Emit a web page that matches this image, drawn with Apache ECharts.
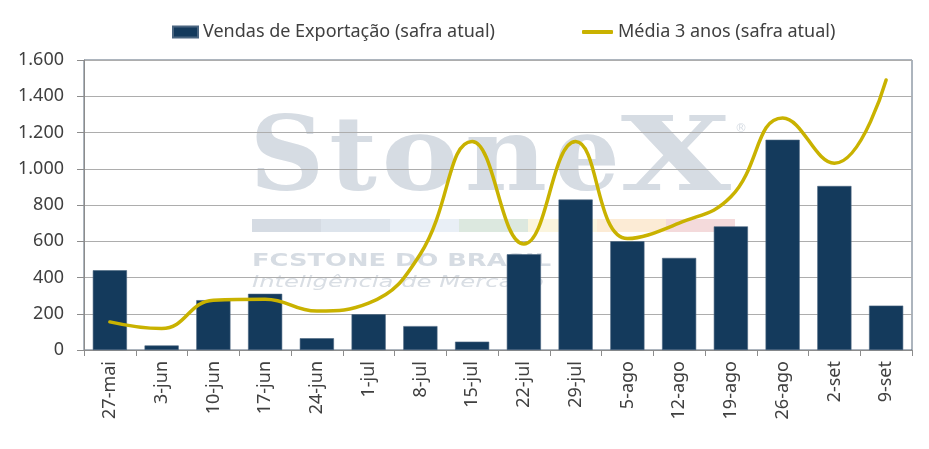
<!DOCTYPE html>
<html>
<head>
<meta charset="utf-8">
<script src="https://cdn.jsdelivr.net/npm/echarts@6/dist/echarts.min.js"></script>
<style>
html,body{margin:0;padding:0;background:#fff;}
#c{width:929px;height:449px;}
</style>
</head>
<body>
<div id="c"></div>
<script>
const categories = ['27-mai','3-jun','10-jun','17-jun','24-jun','1-jul','8-jul','15-jul','22-jul','29-jul','5-ago','12-ago','19-ago','26-ago','2-set','9-set'];
const exportSales = [440, 25, 275, 310, 65, 197, 132, 46, 528, 830, 600, 508, 682, 1160, 905, 245];
const avg3y = [155, 118, 275, 280, 215, 258, 530, 1150, 585, 1150, 615, 700, 845, 1280, 1030, 1490];
const seriesNames = ['Vendas de Exportação (safra atual)', 'Média 3 anos (safra atual)'];
const yTicks = { min: 0, max: 1600, interval: 200 };

// decorative watermark (logo)
const wmLetters = [['S',287,1],['t',353,1],['o',420,1.12],['n',506,1.1],['e',587,1],['X',676,1.38]];
const wmStrips = ['#D5DBE3','#DDE4EC','#E9EFF6','#DCE8DF','#FBF5DE','#FCEBD5','#F4DADB'];
const wmColor = '#D6DCE3';

const graphics = [];
wmLetters.forEach(function(l){
  graphics.push({type:'text', z:-10, silent:true, x:l[1], y:163, scaleX:l[2],
    style:{text:l[0], fill:wmColor, fontFamily:'DejaVu Serif', fontWeight:'bold', fontSize:103, align:'center', verticalAlign:'middle'}});
});
graphics.push({type:'text', z:-10, silent:true, x:741, y:129,
  style:{text:'®', fill:wmColor, fontFamily:'DejaVu Sans', fontSize:12, align:'center', verticalAlign:'middle'}});
wmStrips.forEach(function(c,i){
  graphics.push({type:'rect', z:-10, silent:true, shape:{x:252+i*69, y:219, width:69, height:13}, style:{fill:c}});
});
graphics.push({type:'text', z:-10, silent:true, x:252, y:261, scaleX:1.43,
  style:{text:'FCSTONE DO BRASIL', fill:wmColor, fontFamily:'DejaVu Sans', fontWeight:'bold', fontSize:18, align:'left', verticalAlign:'middle'}});
graphics.push({type:'text', z:-10, silent:true, x:252, y:283, scaleX:1.52,
  style:{text:'Inteligência de Mercado', fill:'#D9DEE4', fontFamily:'DejaVu Sans', fontStyle:'italic', fontSize:16, align:'left', verticalAlign:'middle'}});

const chart = echarts.init(document.getElementById('c'), null, {renderer:'canvas'});
chart.setOption({
  backgroundColor:'#ffffff',
  animation:false,
  textStyle:{fontFamily:'Noto Sans'},
  graphic: graphics,
  legend:[{
    left:167, top:18, itemWidth:25, itemHeight:11,
    textStyle:{fontFamily:'Noto Sans', fontSize:18, color:'#404040'},
    data:[{name:seriesNames[0], icon:'rect'}]
  },{
    left:577, top:18, itemWidth:31, itemHeight:4,
    textStyle:{fontFamily:'Noto Sans', fontSize:18, color:'#404040'},
    data:[{name:seriesNames[1], icon:'roundRect'}]
  }],
  grid:{left:84, right:17, top:60, bottom:99, show:true, borderColor:'#5B6B7C', borderWidth:1, backgroundColor:'transparent'},
  xAxis:{
    type:'category', data:categories, boundaryGap:true,
    axisLine:{show:true, lineStyle:{color:'#8C8C8C', width:1}},
    axisTick:{show:true, length:6, lineStyle:{color:'#8C8C8C'}},
    axisLabel:{rotate:90, fontSize:18, color:'#404040', margin:11, fontFamily:'Noto Sans'},
    splitLine:{show:false}
  },
  yAxis:{
    type:'value', min:yTicks.min, max:yTicks.max, interval:yTicks.interval,
    axisLine:{show:true, lineStyle:{color:'#8C8C8C', width:1}},
    axisTick:{show:true, length:7, lineStyle:{color:'#8C8C8C'}},
    axisLabel:{fontSize:18, color:'#404040', margin:20, fontFamily:'Noto Sans',
      formatter:function(v){ return String(v).replace(/\B(?=(\d{3})+(?!\d))/g,'.'); }},
    splitLine:{show:true, lineStyle:{color:'#ADADAD', width:1}}
  },
  series:[
    {name:seriesNames[0], type:'bar', data:exportSales, barWidth:'66%',
      itemStyle:{color:'#143A5C', borderColor:'#4A6580', borderWidth:0.6}},
    {name:seriesNames[1], type:'line', data:avg3y, smooth:0.45, symbol:'none',
      lineStyle:{color:'#C9B200', width:3.5, cap:'round'}, itemStyle:{color:'#C9B200'}, z:5}
  ]
});
</script>
</body>
</html>
